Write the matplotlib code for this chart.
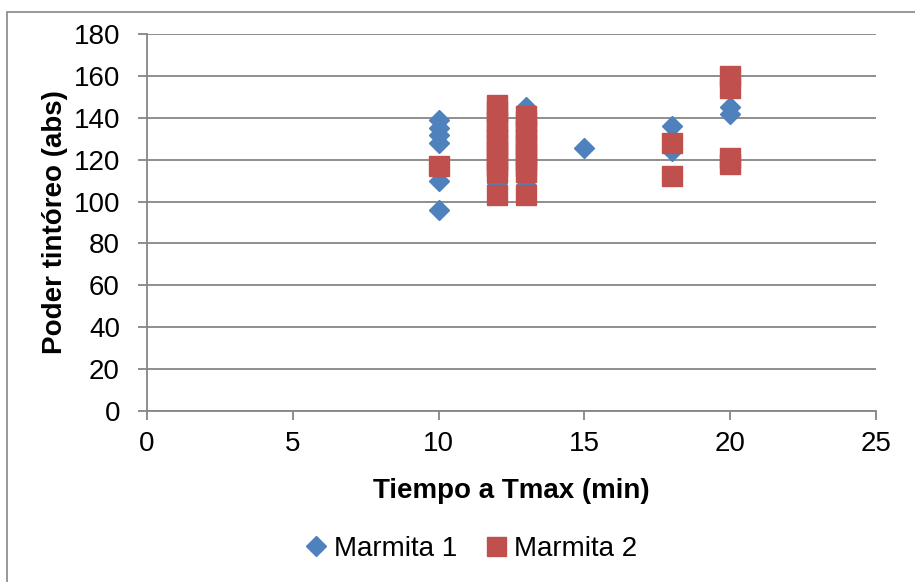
import matplotlib.pyplot as plt
from matplotlib.patches import Rectangle

plt.rcParams['font.family'] = ['Liberation Sans', 'DejaVu Sans']

# Marmita 1 (tiempo a Tmax, poder tintoreo)
m1_x = [10, 10, 10, 10, 10, 10, 10, 12, 13, 13, 15, 18, 18, 20, 20]
m1_y = [139, 135, 132, 128, 116, 110, 96, 109, 145, 108, 125.6, 136, 124, 145, 142]

# Marmita 2
m2_x = [10, 12, 12, 12, 12, 12, 12, 12, 12, 12, 12, 12,
        13, 13, 13, 13, 13, 13, 13, 13, 13, 13, 18, 18, 20, 20, 20, 20]
m2_y = [117, 146, 143, 138, 135, 130, 127, 124, 120, 117, 114, 103,
        141, 138, 134, 130, 127, 123, 120, 117, 114, 103, 128, 112, 160, 154, 121, 118]

blue = '#4F81BD'
red = '#C0504D'
grey = '#868686'

fig = plt.figure(figsize=(9.15, 5.82), dpi=100)
ax = fig.add_axes([147 / 915, 1 - 411 / 582, 729 / 915, 377 / 582])

ax.plot(m1_x, m1_y, linestyle='none', marker='D', markersize=10.5,
        color=blue, label='Marmita 1', zorder=3)
ax.plot(m2_x, m2_y, linestyle='none', marker='s', markersize=14.4,
        color=red, label='Marmita 2', zorder=4)

ax.set_xlim(0, 25)
ax.set_ylim(0, 180)
ax.set_xticks(range(0, 26, 5))
ax.set_yticks(range(0, 181, 20))
ax.yaxis.grid(True, color=grey, linewidth=1.3)
ax.set_axisbelow(True)
for s in ['top', 'right']:
    ax.spines[s].set_visible(False)
for s in ['left', 'bottom']:
    ax.spines[s].set_color(grey)
    ax.spines[s].set_linewidth(1.3)
ax.tick_params(axis='both', colors=grey, labelcolor='black', labelsize=20,
               length=6.5, width=1.3)
ax.tick_params(axis='y', pad=13)
ax.tick_params(axis='x', pad=8)

ax.set_xlabel('Tiempo a Tmax (min)', fontsize=20, fontweight='bold', labelpad=15)
ax.set_ylabel('Poder tintóreo (abs)', fontsize=20, fontweight='bold', labelpad=4)

ax.legend(loc='center', bbox_to_anchor=(471 / 915, 1 - 549 / 582), bbox_transform=fig.transFigure,
          ncol=2, frameon=False, fontsize=20, handletextpad=0.25, columnspacing=1.0,
          handlelength=0.8, markerscale=0.95)

fig.patches.append(Rectangle((7 / 915, -0.1), 1.2, 1.1 - 12 / 582,
                             transform=fig.transFigure, fill=False,
                             edgecolor=grey, linewidth=1.2))

fig.savefig('out.png', dpi=100)
